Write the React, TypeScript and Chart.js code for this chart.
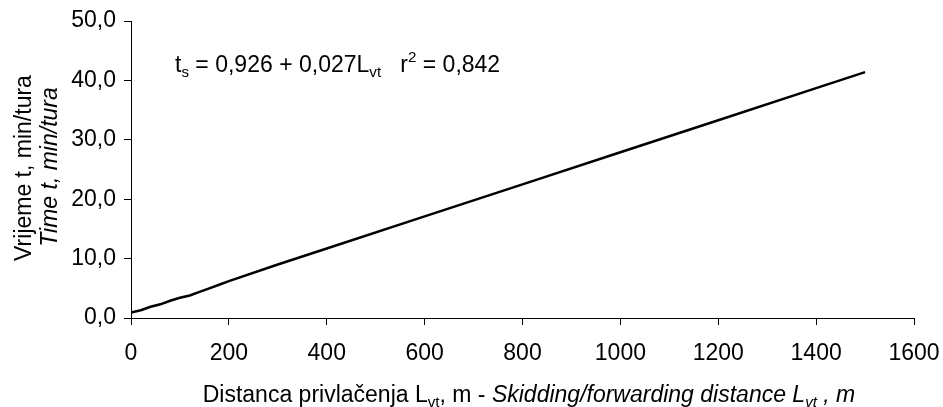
import React, { useEffect, useRef } from "react";
import { Chart, registerables } from "chart.js";

Chart.register(...registerables);

const distances = [0, 20, 40, 60, 80, 100, 120, 140, 160, 180, 200, 300, 400, 600, 800, 1000, 1200, 1400, 1500];
const times = [0.9, 1.3, 1.9, 2.3, 2.9, 3.4, 3.8, 4.4, 5.0, 5.6, 6.2, 9.0, 11.7, 17.1, 22.5, 27.9, 33.3, 38.7, 41.4];
const xTicks = [0, 200, 400, 600, 800, 1000, 1200, 1400, 1600];
const yTicks = [0, 10, 20, 30, 40, 50];

type Seg = { t: string; italic?: boolean; sub?: boolean; sup?: boolean };

const FONT = "'Liberation Sans', Arial, sans-serif";

function drawRich(ctx: CanvasRenderingContext2D, segs: Seg[], x: number, y: number, size: number, align: "left" | "center") {
  const measure = (s: Seg) => {
    const fs = s.sub || s.sup ? size * 0.66 : size;
    ctx.font = `${s.italic ? "italic " : ""}${fs}px ${FONT}`;
    return ctx.measureText(s.t).width;
  };
  const total = segs.reduce((a, s) => a + measure(s), 0);
  let cx = align === "center" ? x - total / 2 : x;
  ctx.textBaseline = "alphabetic";
  ctx.textAlign = "left";
  ctx.fillStyle = "#000";
  for (const s of segs) {
    const fs = s.sub || s.sup ? size * 0.66 : size;
    ctx.font = `${s.italic ? "italic " : ""}${fs}px ${FONT}`;
    const dy = s.sub ? size * 0.22 : s.sup ? -size * 0.42 : 0;
    ctx.fillText(s.t, cx, y + dy);
    cx += ctx.measureText(s.t).width;
  }
}

const textPlugin = {
  id: "richText",
  afterDraw(chart: any) {
    const ctx = chart.ctx as CanvasRenderingContext2D;
    ctx.save();
    drawRich(
      ctx,
      [
        { t: "t" },
        { t: "s", sub: true },
        { t: " = 0,926 + 0,027L" },
        { t: "vt", sub: true },
        { t: "   r" },
        { t: "2", sup: true },
        { t: " = 0,842" },
      ],
      175,
      72,
      23,
      "left"
    );
    drawRich(
      ctx,
      [
        { t: "Distanca privlačenja L" },
        { t: "vt", sub: true },
        { t: ", m - " },
        { t: "Skidding/forwarding distance L", italic: true },
        { t: "vt", italic: true, sub: true },
        { t: " , m", italic: true },
      ],
      529,
      402,
      23,
      "center"
    );
    ctx.save();
    ctx.translate(31, 168);
    ctx.rotate(-Math.PI / 2);
    drawRich(ctx, [{ t: "Vrijeme t, min/tura" }], 0, 0, 23, "center");
    ctx.restore();
    ctx.save();
    ctx.translate(57, 167);
    ctx.rotate(-Math.PI / 2);
    drawRich(ctx, [{ t: "Time t, min/tura", italic: true }], 0, 0, 23, "center");
    ctx.restore();
    ctx.restore();
  },
};

export default function App() {
  const ref = useRef<HTMLCanvasElement>(null);
  useEffect(() => {
    document.body.style.margin = "0";
    const chart = new Chart(ref.current!, {
      type: "line",
      data: {
        datasets: [
          {
            data: distances.map((d, i) => ({ x: d, y: times[i] })),
            borderColor: "#000",
            borderWidth: 2.5,
            pointRadius: 0,
            tension: 0,
            fill: false,
          },
        ],
      },
      options: {
        animation: false,
        responsive: false,
        maintainAspectRatio: false,
        layout: { padding: { left: 0, top: 21, right: 29, bottom: 0 } },
        plugins: { legend: { display: false }, tooltip: { enabled: false } },
        scales: {
          x: {
            type: "linear",
            min: 0,
            max: 1600,
            afterBuildTicks: (s: any) => {
              s.ticks = xTicks.map((v) => ({ value: v }));
            },
            afterFit: (s: any) => {
              s.height = 89;
              s.paddingLeft = 0;
              s.paddingRight = 0;
            },
            border: { color: "#000", width: 1 },
            grid: { display: true, drawOnChartArea: false, drawTicks: true, tickLength: 7, color: "#000" },
            ticks: {
              color: "#000",
              font: { family: FONT, size: 23 },
              padding: 15,
              maxRotation: 0,
              autoSkip: false,
              callback: (v: any) => String(v),
            },
          },
          y: {
            type: "linear",
            min: 0,
            max: 50,
            afterBuildTicks: (s: any) => {
              s.ticks = yTicks.map((v) => ({ value: v }));
            },
            afterFit: (s: any) => {
              s.width = 131;
              s.paddingTop = 0;
              s.paddingBottom = 0;
            },
            border: { color: "#000", width: 1 },
            grid: { display: true, drawOnChartArea: false, drawTicks: true, tickLength: 7, color: "#000" },
            ticks: {
              color: "#000",
              font: { family: FONT, size: 23 },
              padding: 8,
              autoSkip: false,
              callback: (v: any) => Number(v).toFixed(1).replace(".", ","),
            },
          },
        },
      },
      plugins: [textPlugin],
    });
    return () => chart.destroy();
  }, []);
  return (
    <div style={{ width: 943, height: 407, background: "#fff" }}>
      <canvas ref={ref} width={943} height={407} style={{ display: "block" }} />
    </div>
  );
}
